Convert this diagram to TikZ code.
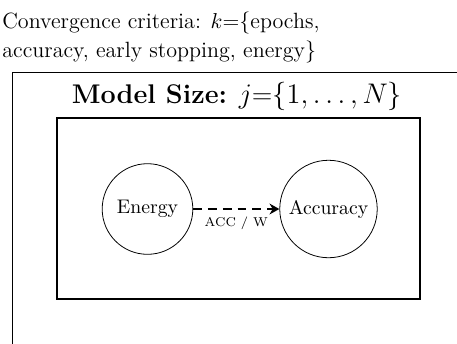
\documentclass[tikz,border=0pt]{standalone}
\usetikzlibrary{arrows.meta}
\begin{document}
\begin{tikzpicture}[x=0.5076pt,y=-0.5076pt,
  var/.style={draw, circle, minimum size=46pt, inner sep=0.3333em, font=\fontsize{10}{12}\selectfont},
  outerplate/.style={draw, line width=0.5pt},
  innerplate/.style={draw, line width=0.8pt},
  dep/.style={very thick, dash pattern=on 4.5pt off 3pt, -{Stealth[length=5pt,width=5.5pt]}}]
\useasboundingbox (0,0) rectangle (457,343);
\clip (0,0) rectangle (457,343);
\node[anchor=north west, align=left, font=\fontsize{11.2}{14.3}\selectfont, inner sep=0] (crit) at (2,12)
  {Convergence criteria: $k$=\{epochs,\\accuracy, early stopping, energy\}};
\draw[outerplate] (12,72) rectangle (490,370);
\node[anchor=base, font=\fontsize{13.7}{16}\selectfont, inner sep=0] (title) at (237,103) {\textbf{Model Size:} $j$=$\{1,\ldots,N\}$};
\draw[innerplate] (57,118) rectangle (420,299);
\node[var] (energy) at (147.5,209) {Energy};
\node[var] (acc) at (328.5,209) {Accuracy};
\draw[dep] (energy) -- node[below, font=\fontsize{6.5}{8}\selectfont, inner sep=3.5pt] (lab) {ACC / W} (acc);
\end{tikzpicture}
\end{document}
